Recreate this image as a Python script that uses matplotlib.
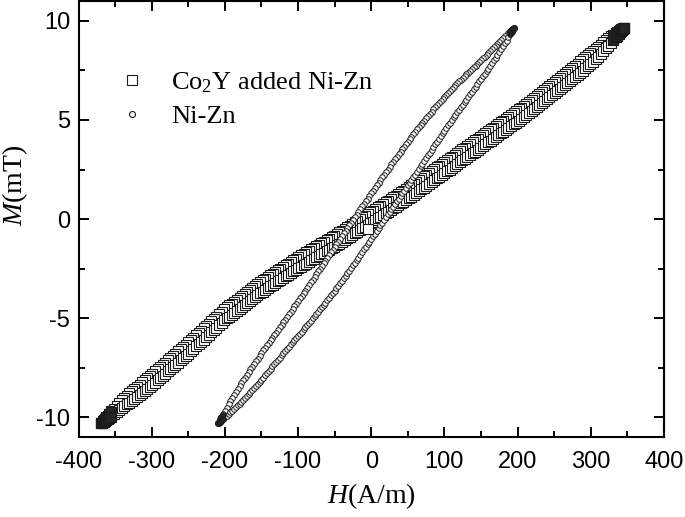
import matplotlib
matplotlib.use('Agg')
import matplotlib.pyplot as plt
from matplotlib.ticker import MultipleLocator

# ---- data: H (A/m), M (mT) ----

# Co2Y added Ni-Zn (squares); same H grid for both branches
h_co = [-369, -365.5, -362, -358.5, -355, -351.5, -348, -344.5, -341, -337.5, -334, -330.5,
        -327, -323.5, -320, -316.5, -313, -309.5, -306, -302.5, -299, -295.5, -292, -288.5,
        -285, -281.5, -278, -274.5, -271, -267.5, -264, -260.5, -257, -253.5, -250, -246.5,
        -243, -239.5, -236, -232.5, -229, -225.5, -222, -218.5, -215, -211.5, -208, -204.5,
        -201, -197.5, -194, -190.5, -187, -183.5, -180, -176.5, -173, -169.5, -166, -162.5,
        -159, -155.5, -152, -148.5, -145, -141.5, -138, -134.5, -131, -127.5, -124, -120.5,
        -117, -113.5, -110, -106.5, -103, -99.5, -96, -92.5, -89, -85.5, -82, -78.5,
        -75, -71.5, -68, -64.5, -61, -57.5, -54, -50.5, -47, -43.5, -40, -36.5,
        -33, -29.5, -26, -22.5, -19, -15.5, -12, -8.5, -5, -1.5, 2, 5.5,
        9, 12.5, 16, 19.5, 23, 26.5, 30, 33.5, 37, 40.5, 44, 47.5,
        51, 54.5, 58, 61.5, 65, 68.5, 72, 75.5, 79, 82.5, 86, 89.5,
        93, 96.5, 100, 103.5, 107, 110.5, 114, 117.5, 121, 124.5, 128, 131.5,
        135, 138.5, 142, 145.5, 149, 152.5, 156, 159.5, 163, 166.5, 170, 173.5,
        177, 180.5, 184, 187.5, 191, 194.5, 198, 201.5, 205, 208.5, 212, 215.5,
        219, 222.5, 226, 229.5, 233, 236.5, 240, 243.5, 247, 250.5, 254, 257.5,
        261, 264.5, 268, 271.5, 275, 278.5, 282, 285.5, 289, 292.5, 296, 299.5,
        303, 306.5, 310, 313.5, 317, 320.5, 324, 327.5, 331, 334.5, 338, 341.5, 345]
# descending branch (upper)
m_co_up = [-10.30, -10.15, -10.00, -9.85, -9.70, -9.56, -9.42, -9.28, -9.13, -9.02, -8.90, -8.79,
           -8.67, -8.56, -8.45, -8.34, -8.23, -8.12, -8.01, -7.90, -7.79, -7.68, -7.56, -7.45,
           -7.34, -7.23, -7.12, -7.01, -6.89, -6.78, -6.67, -6.56, -6.44, -6.33, -6.22, -6.10,
           -5.98, -5.86, -5.74, -5.63, -5.51, -5.39, -5.27, -5.15, -5.03, -4.91, -4.79, -4.67,
           -4.55, -4.45, -4.35, -4.26, -4.16, -4.06, -3.96, -3.86, -3.76, -3.67, -3.57, -3.47,
           -3.37, -3.28, -3.18, -3.09, -3.00, -2.92, -2.83, -2.75, -2.66, -2.58, -2.50, -2.42,
           -2.33, -2.25, -2.16, -2.08, -1.99, -1.91, -1.83, -1.76, -1.68, -1.60, -1.52, -1.45,
           -1.37, -1.30, -1.22, -1.14, -1.06, -0.99, -0.91, -0.83, -0.75, -0.67, -0.58, -0.50,
           -0.41, -0.33, -0.24, -0.16, -0.08, 0.01, 0.09, 0.18, 0.26, 0.35, 0.43, 0.52,
           0.60, 0.68, 0.76, 0.85, 0.93, 1.02, 1.10, 1.19, 1.27, 1.36, 1.44, 1.53,
           1.61, 1.70, 1.79, 1.88, 1.97, 2.06, 2.15, 2.24, 2.33, 2.43, 2.52, 2.61,
           2.70, 2.79, 2.88, 2.97, 3.06, 3.15, 3.24, 3.34, 3.43, 3.52, 3.61, 3.70,
           3.79, 3.88, 3.97, 4.06, 4.15, 4.25, 4.34, 4.43, 4.52, 4.61, 4.70, 4.79,
           4.88, 4.97, 5.06, 5.16, 5.25, 5.34, 5.43, 5.53, 5.62, 5.72, 5.82, 5.92,
           6.01, 6.11, 6.21, 6.31, 6.40, 6.50, 6.60, 6.70, 6.80, 6.90, 7.00, 7.11,
           7.21, 7.32, 7.42, 7.53, 7.63, 7.74, 7.84, 7.95, 8.05, 8.16, 8.26, 8.37,
           8.47, 8.58, 8.69, 8.80, 8.91, 9.01, 9.11, 9.21, 9.30, 9.39, 9.48, 9.57, 9.65]
# ascending branch (lower)
m_co_down = [-10.30, -10.21, -10.12, -10.03, -9.94, -9.84, -9.74, -9.64, -9.53, -9.44, -9.34, -9.25,
             -9.15, -9.05, -8.95, -8.85, -8.75, -8.65, -8.55, -8.45, -8.35, -8.24, -8.12, -8.01,
             -7.90, -7.79, -7.68, -7.57, -7.45, -7.34, -7.23, -7.12, -7.00, -6.89, -6.78, -6.66,
             -6.54, -6.42, -6.30, -6.19, -6.07, -5.95, -5.83, -5.71, -5.59, -5.47, -5.35, -5.23,
             -5.11, -5.01, -4.91, -4.82, -4.72, -4.62, -4.52, -4.42, -4.32, -4.23, -4.13, -4.03,
             -3.93, -3.84, -3.74, -3.65, -3.56, -3.48, -3.39, -3.31, -3.22, -3.14, -3.06, -2.98,
             -2.89, -2.81, -2.72, -2.64, -2.55, -2.47, -2.39, -2.32, -2.24, -2.16, -2.08, -2.01,
             -1.93, -1.86, -1.78, -1.70, -1.62, -1.55, -1.47, -1.39, -1.31, -1.23, -1.14, -1.06,
             -0.97, -0.89, -0.80, -0.72, -0.64, -0.56, -0.47, -0.39, -0.30, -0.22, -0.13, -0.05,
             0.04, 0.12, 0.20, 0.29, 0.37, 0.46, 0.54, 0.63, 0.71, 0.80, 0.88, 0.97,
             1.05, 1.14, 1.23, 1.32, 1.41, 1.50, 1.59, 1.68, 1.77, 1.87, 1.96, 2.05,
             2.14, 2.23, 2.32, 2.41, 2.50, 2.59, 2.68, 2.78, 2.87, 2.96, 3.05, 3.14,
             3.23, 3.32, 3.41, 3.50, 3.59, 3.69, 3.78, 3.87, 3.96, 4.05, 4.14, 4.23,
             4.32, 4.41, 4.50, 4.60, 4.69, 4.78, 4.87, 4.97, 5.06, 5.16, 5.26, 5.36,
             5.45, 5.55, 5.65, 5.75, 5.84, 5.94, 6.04, 6.14, 6.24, 6.34, 6.44, 6.55,
             6.65, 6.76, 6.86, 6.97, 7.07, 7.18, 7.28, 7.39, 7.49, 7.60, 7.70, 7.82,
             7.93, 8.06, 8.19, 8.33, 8.47, 8.61, 8.75, 8.90, 9.04, 9.19, 9.34, 9.50, 9.65]
co_start = (-5, -0.5)

# turning points at the loop tips, where the points pile up into a black cap
h_co_tip_hi = [331, 334, 336, 338, 340, 341, 342, 343, 344, 345]
m_co_tip_hi_up = [9.30, 9.38, 9.43, 9.48, 9.53, 9.56, 9.58, 9.60, 9.63, 9.65]
m_co_tip_hi_down = [9.04, 9.17, 9.25, 9.34, 9.43, 9.48, 9.52, 9.56, 9.61, 9.65]
h_co_tip_lo = [-369, -368, -367, -366, -365, -364, -362, -360, -358, -356]
m_co_tip_lo_up = [-10.30, -10.26, -10.21, -10.17, -10.13, -10.09, -10.00, -9.91, -9.83, -9.74]
m_co_tip_lo_down = [-10.30, -10.27, -10.25, -10.22, -10.20, -10.17, -10.12, -10.07, -10.02, -9.97]

# Ni-Zn (circles)
h_ni = [-209, -207, -205, -202.5, -200, -197.5, -195, -192.5, -190, -187.5, -185, -182.5,
        -180, -177.5, -175, -172.5, -170, -167.5, -165, -162.5, -160, -157.5, -155, -152.5,
        -150, -147.5, -145, -142.5, -140, -137.5, -135, -132.5, -130, -127.5, -125, -122.5,
        -120, -117.5, -115, -112.5, -110, -107.5, -105, -102.5, -100, -97.5, -95, -92.5,
        -90, -87.5, -85, -82.5, -80, -77.5, -75, -72.5, -70, -67.5, -65, -62.5,
        -60, -57.5, -55, -52.5, -50, -47.5, -45, -42.5, -40, -37.5, -35, -32.5,
        -30, -27.5, -25, -22.5, -20, -17.5, -15, -12.5, -10, -7.5, -5, -2.5,
        0, 2.5, 5, 7.5, 10, 12.5, 15, 17.5, 20, 22.5, 25, 27.5,
        30, 32.5, 35, 37.5, 40, 42.5, 45, 47.5, 50, 52.5, 55, 57.5,
        60, 62.5, 65, 67.5, 70, 72.5, 75, 77.5, 80, 82.5, 85, 87.5,
        90, 92.5, 95, 97.5, 100, 102.5, 105, 107.5, 110, 112.5, 115, 117.5,
        120, 122.5, 125, 127.5, 130, 132.5, 135, 137.5, 140, 142.5, 145, 147.5,
        150, 152.5, 155, 157.5, 160, 162.5, 165, 167.5, 170, 172.5, 175, 177.5,
        180, 182.5, 185, 187.5, 190, 192.5, 195]
m_ni_up = [-10.30, -10.15, -10.00, -9.83, -9.65, -9.50, -9.34, -9.19, -9.03, -8.87, -8.71, -8.56,
           -8.40, -8.27, -8.13, -7.99, -7.85, -7.72, -7.58, -7.44, -7.30, -7.17, -7.03, -6.89,
           -6.75, -6.62, -6.49, -6.36, -6.23, -6.11, -5.98, -5.85, -5.72, -5.59, -5.46, -5.33,
           -5.20, -5.07, -4.93, -4.80, -4.67, -4.54, -4.40, -4.27, -4.13, -4.00, -3.87, -3.74,
           -3.60, -3.47, -3.33, -3.19, -3.05, -2.92, -2.78, -2.64, -2.50, -2.37, -2.23, -2.09,
           -1.95, -1.82, -1.68, -1.54, -1.40, -1.27, -1.13, -0.99, -0.85, -0.72, -0.58, -0.44,
           -0.30, -0.17, -0.03, 0.10, 0.23, 0.37, 0.50, 0.64, 0.77, 0.90, 1.03, 1.17,
           1.30, 1.44, 1.57, 1.70, 1.83, 1.97, 2.10, 2.24, 2.37, 2.50, 2.63, 2.77,
           2.90, 3.03, 3.15, 3.28, 3.40, 3.53, 3.65, 3.78, 3.90, 4.03, 4.15, 4.28,
           4.40, 4.52, 4.63, 4.74, 4.85, 4.97, 5.08, 5.19, 5.30, 5.42, 5.53, 5.64,
           5.75, 5.85, 5.95, 6.05, 6.15, 6.25, 6.35, 6.45, 6.55, 6.65, 6.75, 6.85,
           6.95, 7.04, 7.13, 7.22, 7.30, 7.39, 7.48, 7.57, 7.65, 7.74, 7.83, 7.92,
           8.00, 8.10, 8.19, 8.29, 8.38, 8.47, 8.56, 8.66, 8.75, 8.84, 8.93, 9.03,
           9.12, 9.21, 9.30, 9.39, 9.47, 9.56, 9.65]
m_ni_down = [-10.30, -10.24, -10.17, -10.09, -10.00, -9.92, -9.83, -9.74, -9.65, -9.57, -9.48, -9.39,
             -9.30, -9.20, -9.10, -9.00, -8.90, -8.80, -8.70, -8.60, -8.50, -8.40, -8.30, -8.20,
             -8.10, -7.99, -7.88, -7.77, -7.65, -7.54, -7.43, -7.32, -7.20, -7.09, -6.98, -6.87,
             -6.75, -6.64, -6.53, -6.43, -6.32, -6.21, -6.10, -5.99, -5.88, -5.78, -5.67, -5.56,
             -5.45, -5.34, -5.23, -5.12, -5.00, -4.89, -4.78, -4.67, -4.55, -4.44, -4.33, -4.22,
             -4.10, -3.98, -3.85, -3.73, -3.60, -3.48, -3.35, -3.23, -3.10, -2.98, -2.85, -2.73,
             -2.60, -2.47, -2.33, -2.20, -2.07, -1.94, -1.80, -1.67, -1.53, -1.40, -1.27, -1.14,
             -1.00, -0.87, -0.73, -0.59, -0.45, -0.32, -0.18, -0.04, 0.10, 0.24, 0.37, 0.50,
             0.63, 0.77, 0.90, 1.04, 1.17, 1.30, 1.43, 1.57, 1.70, 1.84, 1.98, 2.12,
             2.25, 2.39, 2.53, 2.67, 2.80, 2.94, 3.08, 3.22, 3.35, 3.49, 3.63, 3.77,
             3.90, 4.04, 4.18, 4.32, 4.45, 4.59, 4.73, 4.87, 5.00, 5.13, 5.26, 5.39,
             5.52, 5.65, 5.78, 5.91, 6.03, 6.16, 6.29, 6.42, 6.55, 6.68, 6.81, 6.94,
             7.07, 7.20, 7.33, 7.46, 7.59, 7.72, 7.85, 8.00, 8.14, 8.29, 8.43, 8.57,
             8.71, 8.86, 9.00, 9.17, 9.33, 9.49, 9.65]

h_ni_tip_hi = [190, 192, 193, 194, 195]
m_ni_tip_hi_up = [9.47, 9.54, 9.58, 9.61, 9.65]
m_ni_tip_hi_down = [9.33, 9.46, 9.52, 9.59, 9.65]
h_ni_tip_lo = [-209, -208, -207, -206, -205, -203]
m_ni_tip_lo_up = [-10.30, -10.22, -10.15, -10.07, -10.00, -9.86]
m_ni_tip_lo_down = [-10.30, -10.27, -10.24, -10.20, -10.17, -10.10]

labels = [r'Co$_2$Y added Ni-Zn', 'Ni-Zn']

# ---- plot ----
plt.rcParams['font.family'] = 'Liberation Sans'
plt.rcParams['axes.unicode_minus'] = False
plt.rcParams['mathtext.fontset'] = 'custom'
plt.rcParams['mathtext.rm'] = 'Liberation Serif'
plt.rcParams['mathtext.it'] = 'Liberation Serif:italic'

fig = plt.figure(figsize=(6.85, 5.17), dpi=100)
ax = fig.add_axes([0.1146, 0.1542, 0.8547, 0.8439])

sq = dict(ls='none', marker='s', ms=6.5, mec='#1a1a1a', mew=0.8)
ci = dict(ls='none', marker='o', ms=4, mec='#1a1a1a', mew=0.7)
tip = '#262626'

# loop order: down the upper branch, back up the lower one
ax.plot(h_co[::-1] + h_co, m_co_up[::-1] + m_co_down, mfc='white', label=labels[0], **sq)
ax.plot(h_co_tip_hi + h_co_tip_hi, m_co_tip_hi_up + m_co_tip_hi_down, mfc=tip, **sq)
ax.plot(h_co_tip_lo + h_co_tip_lo, m_co_tip_lo_up + m_co_tip_lo_down, mfc=tip, **sq)

ax.plot(h_ni[::-1] + h_ni, m_ni_up[::-1] + m_ni_down, mfc='white', label=labels[1], **ci)
ax.plot(h_ni_tip_hi + h_ni_tip_hi, m_ni_tip_hi_up + m_ni_tip_hi_down, mfc=tip, **ci)
ax.plot(h_ni_tip_lo + h_ni_tip_lo, m_ni_tip_lo_up + m_ni_tip_lo_down, mfc=tip, **ci)

ax.plot(*co_start, mfc='white', **sq)

ax.set_xlim(-400, 400)
ax.set_ylim(-11, 11)
ax.xaxis.set_major_locator(MultipleLocator(100))
ax.xaxis.set_minor_locator(MultipleLocator(50))
ax.yaxis.set_major_locator(MultipleLocator(5))
ax.yaxis.set_minor_locator(MultipleLocator(2.5))
ax.tick_params(which='both', direction='in', top=True, right=True, width=1.4,
               labelsize=17)
ax.tick_params(which='major', length=7)
ax.tick_params(which='minor', length=4)
ax.tick_params(axis='x', which='major', pad=10)
ax.tick_params(axis='y', which='major', pad=6)
for s in ax.spines.values():
    s.set_linewidth(1.5)

ax.set_xlabel(r'$H$(A/m)', fontfamily='Liberation Serif', fontsize=20, labelpad=6)
ax.set_ylabel(r'$M$(mT)', fontfamily='Liberation Serif', fontsize=20)
ax.yaxis.set_label_coords(-0.083, 0.578)

leg = ax.legend(loc='upper left', bbox_to_anchor=(0.028, 0.895), frameon=False,
                numpoints=1, handlelength=1.0, handletextpad=1.0, labelspacing=0.35,
                prop={'family': 'Liberation Serif', 'size': 19})
for h in leg.legend_handles:
    h.set_markersize(7 if h.get_marker() == 's' else 4.3)
    h.set_markeredgewidth(0.8)

fig.savefig('out.png', dpi=100)
